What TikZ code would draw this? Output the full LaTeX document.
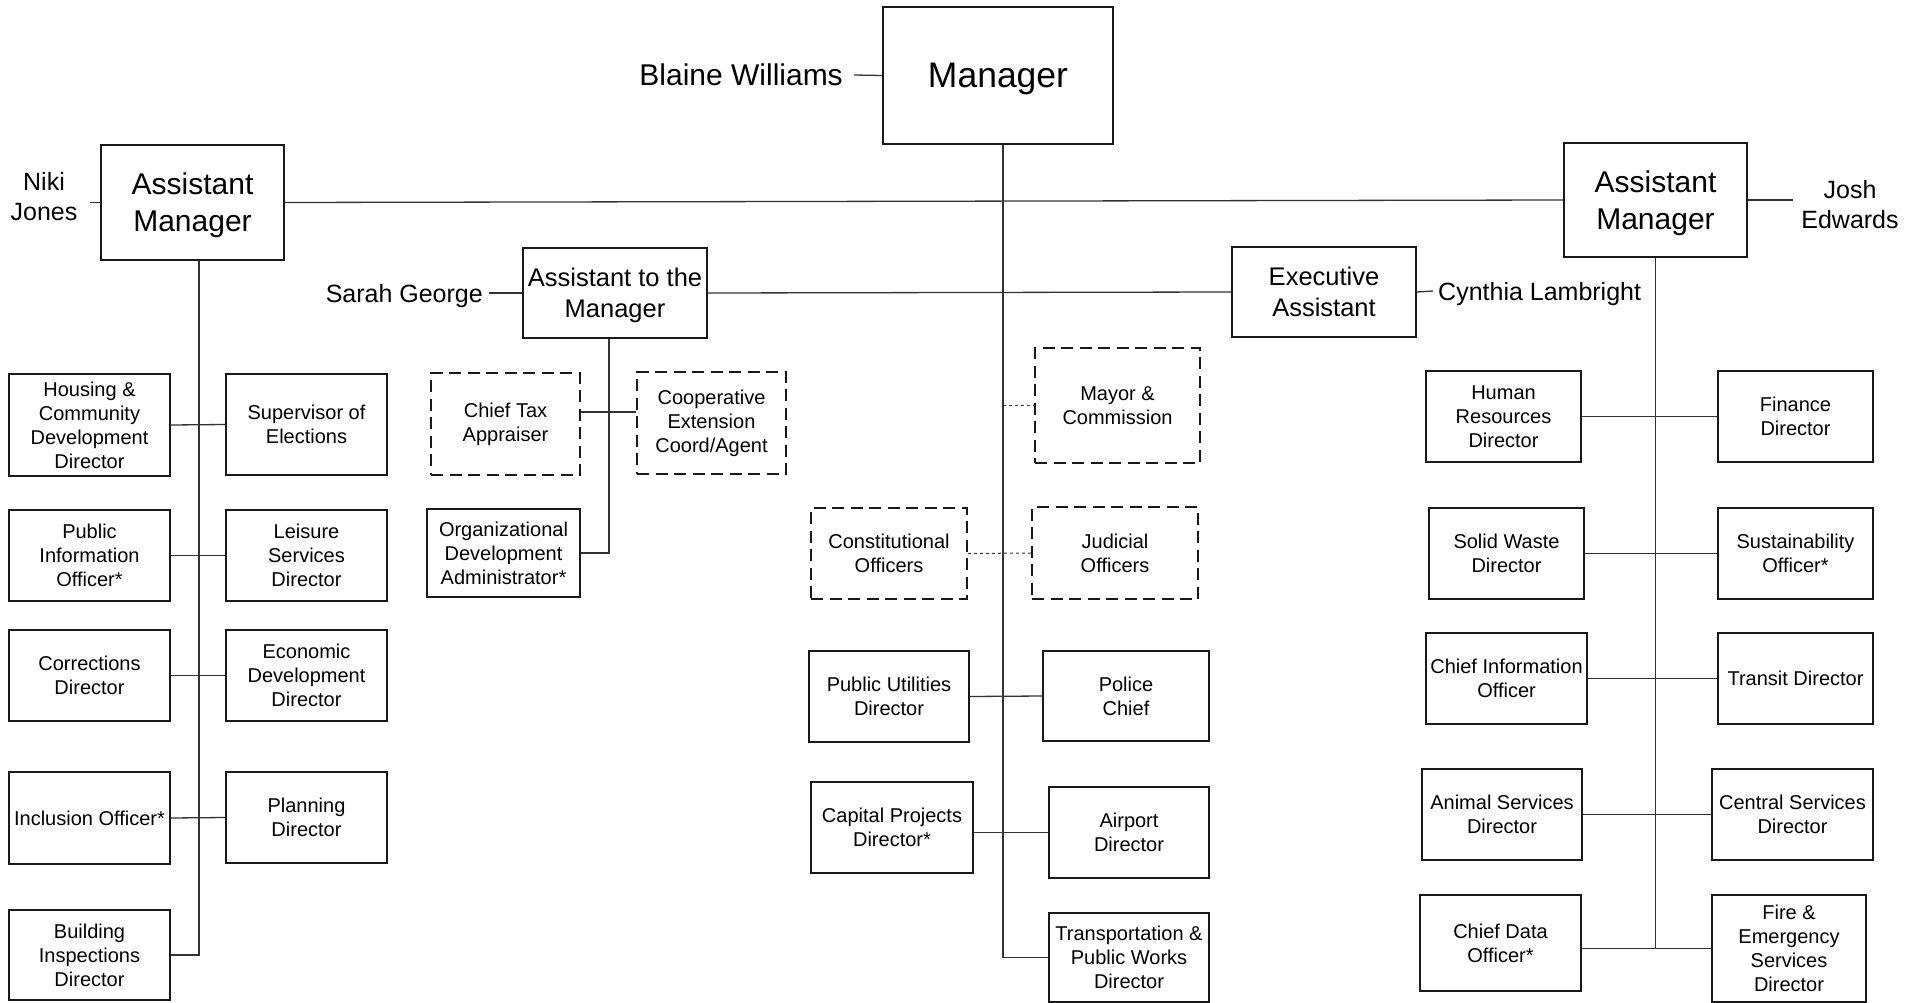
\documentclass[tikz,border=0pt]{standalone}
\usepackage{fontspec}
\setmainfont{Liberation Sans}
\newcommand\mybox[7]{%
  \pgfmathsetmacro\mbcx{(#3+#4)/2}\pgfmathsetmacro\mbcy{(#5+#6)/2}%
  \pgfmathsetmacro\mbw{#4-#3}\pgfmathsetmacro\mbh{#6-#5}%
  \node[#1, minimum width=\mbw pt, minimum height=\mbh pt] (#2) at (\mbcx,\mbcy) {#7};}
\tikzset{
  bx/.style={draw=black!90, line width=2pt, inner sep=2pt, align=center, text=black,
             font=\fontsize{20}{24}\selectfont},
  dbx/.style={bx, dash pattern=on 12pt off 6.5pt, line width=1.8pt},
  big/.style={draw=black!90, line width=2.2pt, inner sep=2pt, align=center, text=black, text depth=0pt},
  nm/.style={align=center, inner ysep=0pt, text=black, font=\fontsize{25}{30}\selectfont},
  conn/.style={line width=1.3pt, draw=black!80},
  dconn/.style={line width=1pt, draw=black!80, dash pattern=on 3pt off 3pt},
}
\begin{document}
\begin{tikzpicture}[x=1pt,y=-1pt]
\useasboundingbox (0,0) rectangle (1918,1003);
\fill[white] (0,0) rectangle (1918,1003);

% top level
\mybox{big,font=\fontsize{35.5}{42}\selectfont}{mgr}{883}{1113}{7}{144}{Manager}
\mybox{big,font=\fontsize{30}{37}\selectfont}{amL}{101}{284}{145}{260}{Assistant\\Manager}
\mybox{big,font=\fontsize{30}{37}\selectfont}{amR}{1564}{1747}{143}{257}{Assistant\\Manager}
\mybox{big,font=\fontsize{25.5}{31}\selectfont}{atm}{523}{707}{248}{338}{Assistant to the\\Manager}
\mybox{big,font=\fontsize{25.5}{31}\selectfont}{ea}{1232}{1416}{247}{337}{Executive\\Assistant}

% names
\node[nm, font=\fontsize{30}{36}\selectfont, anchor=east, inner xsep=11pt, text depth=0pt] (blaine) at (854,75) {Blaine Williams};
\node[nm, inner xsep=12.5pt] (niki) at (44,197) {Niki\\Jones};
\node[nm, inner xsep=8.5pt] (josh) at (1850,205) {Josh\\Edwards};
\node[nm, anchor=east, inner xsep=6pt, text depth=0pt] (sarah) at (489,293) {Sarah George};
\node[nm, anchor=west, inner xsep=5pt, text depth=0pt] (cyn) at (1433,291) {Cynthia Lambright};

% left column
\mybox{bx}{hous}{9}{170}{374}{476}{Housing \&\\Community\\Development\\Director}
\mybox{bx}{soe}{226}{387}{374}{475}{Supervisor of\\Elections}
\mybox{bx}{pio}{9}{170}{510}{601}{Public\\Information\\Officer*}
\mybox{bx}{leis}{226}{387}{510}{601}{Leisure\\Services\\Director}
\mybox{bx}{corr}{9}{170}{630}{721}{Corrections\\Director}
\mybox{bx}{econ}{226}{387}{630}{721}{Economic\\Development\\Director}
\mybox{bx}{incl}{9}{170}{772}{864}{Inclusion Officer*}
\mybox{bx}{plan}{226}{387}{772}{863}{Planning\\Director}
\mybox{bx}{bldg}{9}{170}{910}{1000}{Building\\Inspections\\Director}

% assistant to the manager group
\mybox{dbx}{ctax}{431}{580}{373}{475}{Chief Tax\\Appraiser}
\mybox{dbx}{coop}{637}{786}{372}{474}{Cooperative\\Extension\\Coord/Agent}
\mybox{bx}{orgd}{427}{580}{509}{597}{Organizational\\Development\\Administrator*}

% manager group
\mybox{dbx}{mayor}{1035}{1200}{348}{463}{Mayor \&\\Commission}
\mybox{dbx}{const}{811}{967}{508}{599}{Constitutional\\Officers}
\mybox{dbx}{jud}{1032}{1198}{507}{599}{Judicial\\Officers}
\mybox{bx}{pu}{809}{969}{651}{742}{Public Utilities\\Director}
\mybox{bx}{pol}{1043}{1209}{651}{741}{Police\\Chief}
\mybox{bx}{cap}{811}{973}{782}{873}{Capital Projects\\Director*}
\mybox{bx}{air}{1049}{1209}{787}{878}{Airport\\Director}
\mybox{bx}{trans}{1049}{1209}{913}{1002}{Transportation \&\\Public Works\\Director}

% right column
\mybox{bx}{hr}{1426}{1581}{371}{462}{Human\\Resources\\Director}
\mybox{bx}{fin}{1718}{1873}{371}{462}{Finance\\Director}
\mybox{bx}{sw}{1429}{1584}{508}{599}{Solid Waste\\Director}
\mybox{bx}{sus}{1718}{1873}{508}{599}{Sustainability\\Officer*}
\mybox{bx}{cio}{1426}{1587}{633}{724}{Chief Information\\Officer}
\mybox{bx}{tran}{1718}{1873}{633}{724}{Transit Director}
\mybox{bx}{anim}{1422}{1582}{769}{860}{Animal Services\\Director}
\mybox{bx}{cent}{1712}{1873}{769}{860}{Central Services\\Director}
\mybox{bx}{cdo}{1420}{1581}{895}{991}{Chief Data\\Officer*}
\mybox{bx}{fire}{1712}{1866}{895}{1002}{Fire \&\\Emergency\\Services\\Director}

% connectors: names
\draw[conn] (blaine.east) -- (mgr.west);
\draw[conn] (amL.west) -- (amL.west -| niki.east);
\draw[conn] (amR.east) -- (amR.east -| josh.west);
\draw[conn] (sarah.east) -- (atm.west);
\draw[conn] (ea.east) -- (cyn.west);

% top-level lines
\draw[conn] (amL.east) -- (amR.west);
\draw[conn] (atm.east) -- (ea.west);

% left spine
\coordinate (sL) at ([xshift=6.5pt]amL.south);
\draw[conn] (sL) -- (sL |- bldg.east) -- (bldg.east);
\draw[conn] (hous.east) -- (soe.west);
\draw[conn] (pio.east) -- (leis.west);
\draw[conn] (corr.east) -- (econ.west);
\draw[conn] (incl.east) -- (plan.west);

% assistant to the manager spine
\coordinate (sA) at ([xshift=-6pt]atm.south);
\draw[conn] (sA) -- (sA |- orgd.east) -- (orgd.east);
\coordinate (tc) at ([yshift=12pt]ctax.east);
\draw[conn] (tc) -- (tc -| coop.west);

% manager spine
\coordinate (sM) at ([xshift=5pt]mgr.south);
\draw[conn] (sM) -- (sM |- trans.west) -- (trans.west);
\draw[dconn] (sM |- mayor.west) -- (mayor.west);
\draw[dconn] (const.east) -- (jud.west);
\draw[conn] (pu.east) -- (pol.west);
\draw[conn] (air.west) -- (air.west -| cap.east);

% right spine
\coordinate (sR) at (amR.south);
\draw[conn] (sR) -- (sR |- fire.west);
\draw[conn] (hr.east) -- (fin.west);
\draw[conn] (sw.east) -- (sus.west);
\draw[conn] (cio.east) -- (tran.west);
\draw[conn] (anim.east) -- (cent.west);
\draw[conn] (fire.west) -- (fire.west -| cdo.east);
\end{tikzpicture}
\end{document}
